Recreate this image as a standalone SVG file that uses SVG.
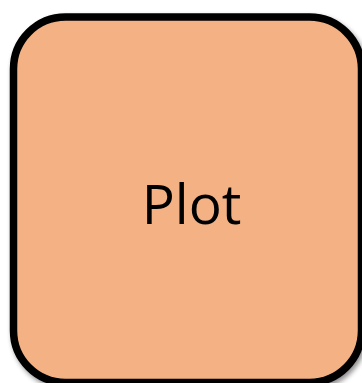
<svg xmlns="http://www.w3.org/2000/svg" width="362" height="383" viewBox="0 0 362 383">
<defs>
<filter id="sh" x="-10%" y="-10%" width="130%" height="130%">
<feGaussianBlur in="SourceAlpha" stdDeviation="2.5"/>
<feOffset dx="2" dy="3" result="b"/>
<feComponentTransfer><feFuncA type="linear" slope="0.45"/></feComponentTransfer>
<feMerge><feMergeNode/><feMergeNode in="SourceGraphic"/></feMerge>
</filter>
<style>
.box{fill:#F4B183;stroke:#000;stroke-width:7.5}
.lbl{font-family:"Open Sans","Liberation Sans",sans-serif;font-size:55px;fill:#000;text-anchor:middle}
</style>
</defs>
<rect width="362" height="383" fill="#fff"/>
<g id="plot">
<rect class="box" x="13.5" y="17" width="348" height="365.5" rx="52" ry="52" filter="url(#sh)"/>
<text class="lbl" x="191.5" y="224">Plot</text>
</g>
<g id="connectors"/>
</svg>
